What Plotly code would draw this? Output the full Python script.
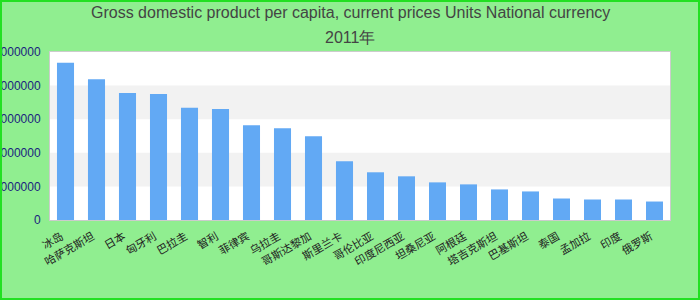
import plotly.graph_objects as go

title_line1 = "Gross domestic product per capita, current prices Units National currency"
title_line2 = "2011年"

categories = ["冰岛", "哈萨克斯坦", "日本", "匈牙利", "巴拉圭", "智利", "菲律宾", "乌拉圭",
              "哥斯达黎加", "斯里兰卡", "哥伦比亚", "印度尼西亚", "坦桑尼亚", "阿根廷",
              "塔吉克斯坦", "巴基斯坦", "泰国", "孟加拉", "印度", "俄罗斯"]
values = [4680000, 4190000, 3780000, 3750000, 3340000, 3300000, 2820000, 2730000,
          2490000, 1750000, 1420000, 1300000, 1120000, 1060000, 910000, 850000,
          640000, 610000, 610000, 550000]
y_ticks = [0, 1000000, 2000000, 3000000, 4000000, 5000000]
y_ticktext = ["0", "1000000", "2000000", "3000000", "4000000", "5000000"]

W, H = 700, 300
ML, MR, MT, MB = 50, 30, 52, 80
pw, ph = W - ML - MR, H - MT - MB

fig = go.Figure(go.Bar(x=categories, y=values, marker=dict(color="#62a9f4", line=dict(width=0)),
                       hoverinfo="x+y"))

shapes = []
# alternating bands between ticks
for i in range(len(y_ticks) - 1):
    if i % 2 == 1:
        shapes.append(dict(type="rect", xref="paper", yref="y", x0=0, x1=1,
                           y0=y_ticks[i], y1=y_ticks[i + 1], fillcolor="#f2f2f2",
                           line=dict(width=0), layer="below"))
# figure border
shapes.append(dict(type="rect", xref="paper", yref="paper",
                   x0=-(ML - 1) / pw, x1=1 + (MR - 1) / pw,
                   y0=-(MB - 1) / ph, y1=1 + (MT - 1) / ph,
                   line=dict(color="#22e022", width=2), fillcolor="rgba(0,0,0,0)"))


def ypix(py):
    # pixel row from top -> paper coordinate
    return 1 + (MT - py) / ph


title_font = dict(size=16, color="#444444", family="Liberation Sans, Arial, sans-serif")
annotations = [
    dict(text=title_line1, xref="paper", yref="paper", x=(W / 2 - ML) / pw, y=ypix(13),
         xanchor="center", yanchor="middle", showarrow=False, font=title_font),
    dict(text=title_line2, xref="paper", yref="paper", x=(W / 2 - ML) / pw, y=ypix(37),
         xanchor="center", yanchor="middle", showarrow=False, font=title_font),
]

fig.update_layout(
    width=W, height=H,
    margin=dict(l=ML, r=MR, t=MT, b=MB, autoexpand=False),
    paper_bgcolor="#90ee90", plot_bgcolor="#ffffff",
    font=dict(family="Liberation Sans, Arial, sans-serif"),
    bargap=0.45,
    showlegend=False,
    shapes=shapes,
    annotations=annotations,
    xaxis=dict(tickangle=-30, tickfont=dict(size=11, color="#222222",
                                             family="Noto Sans CJK SC, sans-serif"),
               showline=True, linecolor="#cccccc", linewidth=1, mirror=True,
               showgrid=False, ticks="outside", ticklen=5, tickcolor="rgba(0,0,0,0)",
               ticklabelshift=-4,
               automargin=False, fixedrange=True),
    yaxis=dict(range=[0, 5000000], tickvals=y_ticks, ticktext=y_ticktext,
               tickfont=dict(size=12, color="#1a237e"),
               showline=True, linecolor="#cccccc", linewidth=1, mirror=True,
               showgrid=False, zeroline=False, ticks="outside", ticklen=6,
               tickcolor="rgba(0,0,0,0)", automargin=False, fixedrange=True),
)

fig.write_html("out.html")
